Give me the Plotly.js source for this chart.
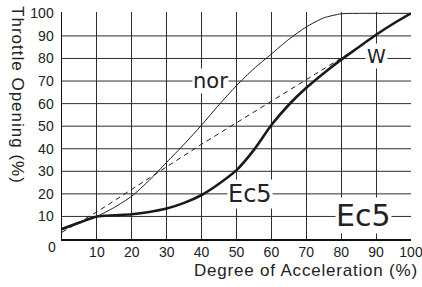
<!DOCTYPE html>
<html>
<head>
<meta charset="utf-8">
<script src="https://cdn.plot.ly/plotly-3.0.1.min.js"></script>
<style>html,body{margin:0;padding:0;background:#fff;}#chart{width:422px;height:287px;}</style>
</head>
<body>
<div id="chart"></div>
<script>
// ---- data ----
var accel = [0,5,10,15,20,25,30,35,40,45,50,55,60,65,70,75,80,85,90,95,100];
var norThrottle = [4,7,10,14,19,26,34,42,50.5,59.5,68,75.5,82,88.5,94,98,99.8,100,100,100,100];
var ec5Throttle = [4.5,7.3,10,10.5,11,12,13.5,16,19.5,24.5,30.5,39.5,50.5,59.5,67,73.5,79.5,85,90.5,95.5,100];
var wAccel = [0,10,20,30,40,50,60,70,80,84];
var wThrottle = [3,12,22,32,42,51.5,61,70.5,80,84];
var xTickVals = [10,20,30,40,50,60,70,80,90,100];
var xTickText = ['10','20','30','40','50','60','70','80','90','100'];
var yTickVals = [10,20,30,40,50,60,70,80,90,100];
var yTickText = ['10','20','30','40','50','60','70','80','90','100'];
var yGridVals = [10,20,30,40,50,60,70,80,90];
var xTitle = 'Degree of Acceleration (%)';
var yTitle = 'Throttle Opening (%)';

var ink = '#1a1a1a';
var labelFont = 'DejaVu Sans, sans-serif';
var axisFont = 'Liberation Sans, Arial, sans-serif';

var traces = [
  {x: accel, y: norThrottle, mode: 'lines', line: {color: ink, width: 1, shape: 'spline', smoothing: 0.6}, hoverinfo: 'skip'},
  {x: wAccel, y: wThrottle, mode: 'lines', line: {color: ink, width: 1, dash: '5px,4px'}, hoverinfo: 'skip'},
  {x: accel, y: ec5Throttle, mode: 'lines', line: {color: ink, width: 2.6, shape: 'spline', smoothing: 0.6}, hoverinfo: 'skip'}
];

var gridColor = '#2e2e2e';
var shapes = yGridVals.map(function(v){
  return {type: 'line', xref: 'x', yref: 'y', x0: 0, x1: 100, y0: v, y1: v, layer: 'below', line: {color: gridColor, width: 1}};
});

var layout = {
  width: 422, height: 287,
  margin: {l: 62, r: 11, t: 12, b: 48},
  paper_bgcolor: '#fff', plot_bgcolor: '#fff',
  showlegend: false,
  xaxis: {
    range: [0, 100], tickvals: xTickVals, ticktext: xTickText,
    showgrid: true, gridcolor: gridColor, gridwidth: 1,
    zeroline: false, showline: true, linecolor: '#111', linewidth: 1.5,
    ticks: '', ticklabelstandoff: 0, ticklabeloverflow: 'allow',
    tickfont: {family: axisFont, size: 14, color: '#222'}
  },
  yaxis: {
    range: [0, 100.6], tickvals: yTickVals, ticktext: yTickText,
    showgrid: false, zeroline: false, showline: true, linecolor: '#111', linewidth: 1.5,
    ticks: '', ticklabelstandoff: 4, ticklabeloverflow: 'allow',
    tickfont: {family: axisFont, size: 14, color: '#222'}
  },
  shapes: shapes,
  annotations: [
    {xref: 'x', yref: 'y', x: 0, y: 0, text: '0', showarrow: false, xanchor: 'right', yanchor: 'middle', xshift: -4, yshift: -8,
     font: {family: axisFont, size: 14, color: '#222'}},
    {xref: 'paper', yref: 'paper', x: 1, y: 0, text: '<span style="letter-spacing:0.8px">' + xTitle + '</span>', showarrow: false,
     xanchor: 'right', yanchor: 'middle', xshift: 9, yshift: -31,
     font: {family: axisFont, size: 17, color: '#222'}},
    {xref: 'paper', yref: 'paper', x: 0, y: 0.634, text: '<span style="letter-spacing:1px">' + yTitle + '</span>', showarrow: false,
     textangle: 90, xanchor: 'center', yanchor: 'middle', xshift: -44,
     font: {family: axisFont, size: 17, color: '#222'}},
    {xref: 'x', yref: 'y', x: 42.5, y: 70, text: 'nor', showarrow: false, bgcolor: '#fff', borderpad: 0,
     font: {family: labelFont, size: 21, color: '#222'}},
    {xref: 'x', yref: 'y', x: 90.2, y: 81.1, text: 'W', showarrow: false, bgcolor: '#fff', borderpad: 1,
     font: {family: labelFont, size: 19, color: '#222'}},
    {xref: 'x', yref: 'y', x: 53.9, y: 19.9, text: 'Ec5', showarrow: false, bgcolor: '#fff', borderpad: 0,
     font: {family: labelFont, size: 24, color: '#222'}},
    {xref: 'x', yref: 'y', x: 86.3, y: 10.2, text: 'Ec5', showarrow: false, bgcolor: '#fff', borderpad: 0,
     font: {family: labelFont, size: 30, color: '#222'}}
  ]
};

Plotly.newPlot('chart', traces, layout, {staticPlot: true, displayModeBar: false});
</script>
</body>
</html>
